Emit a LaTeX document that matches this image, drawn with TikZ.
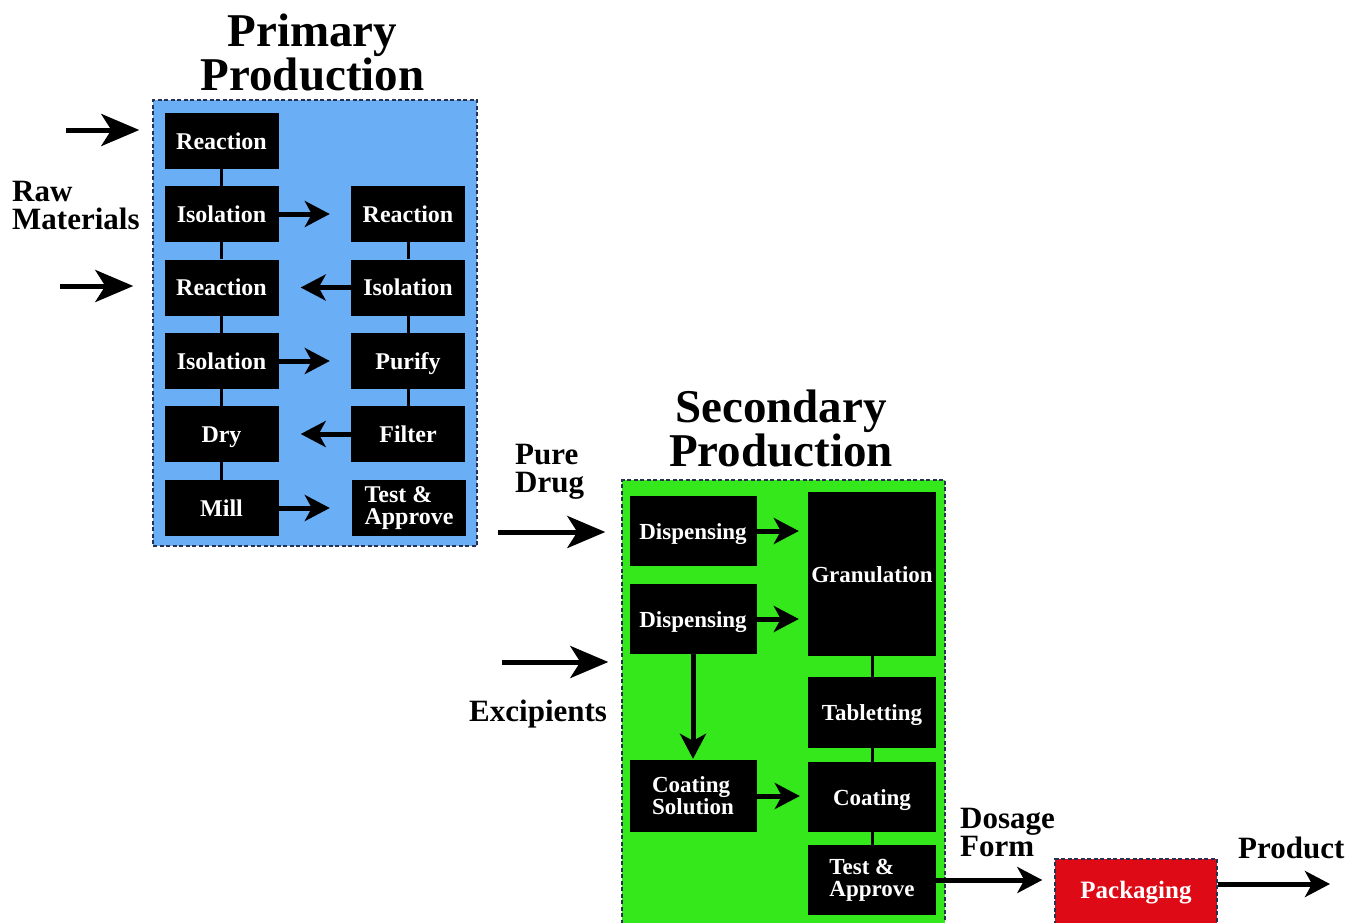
\documentclass[tikz,border=0pt]{standalone}
\usepackage{fontspec}
\setmainfont{Liberation Serif}
\usetikzlibrary{arrows.meta}
\definecolor{primblue}{RGB}{106,174,245}
\definecolor{secgreen}{RGB}{52,232,28}
\definecolor{packred}{RGB}{222,10,22}
\definecolor{paneledge}{RGB}{40,50,80}
\tikzset{
  panel/.style={draw=paneledge, line width=1.4pt, dash pattern=on 4pt off 2.5pt, inner sep=0pt},
  blk/.style={fill=black, text=white, inner sep=0pt, align=left,
    font=\bfseries\fontsize{24}{22}\selectfont},
  pblk/.style={blk, minimum width=114pt, minimum height=56pt},
  sblk/.style={blk, font=\bfseries\fontsize{23}{22}\selectfont,
    minimum width=127pt, minimum height=70pt},
  one/.style={text height=18pt, text depth=2pt},
  link/.style={line width=3pt},
  arr/.style={line width=5pt, -{Stealth[length=25pt,width=26pt,inset=7pt]}},
  bigarr/.style={line width=5pt, -{Stealth[length=38pt,width=32pt,inset=10pt]}},
  lbl/.style={inner sep=0pt, align=left, font=\bfseries\fontsize{31}{28}\selectfont},
  heading/.style={inner sep=0pt, align=center, font=\bfseries\fontsize{47}{44}\selectfont},
}
\begin{document}
\begin{tikzpicture}[x=1pt, y=-1pt]
\useasboundingbox (0,0) rectangle (1349,922);

% process panels
\node[panel, fill=primblue, minimum width=324pt, minimum height=446pt] (prim) at (315,323) {};
\node[panel, fill=secgreen, minimum width=323pt, minimum height=455pt] (sec) at (783.5,707.5) {};

% headings and labels
\node[heading] (hprim) at (312.5,52.5) {Primary\\Production};
\node[heading] (hsec) at (781,428.6) {Secondary\\Production};
\node[lbl, anchor=west] (raw) at (12,205.8) {Raw\\Materials};
\node[lbl, anchor=west] (drug) at (515,471.3) {Pure\\Drug};
\node[lbl, anchor=base west] (exc) at (469,721) {Excipients};
\node[lbl, anchor=west] (dose) at (960,832.2) {Dosage\\Form};
\node[lbl, anchor=base west] (prod) at (1238,858) {Product};

% primary production steps
\node[pblk, one] (rA) at (221.5,141) {Reaction};
\node[pblk, one] (iA) at (221.5,214) {Isolation};
\node[pblk, one] (rB) at (221.5,287.5) {Reaction};
\node[pblk, one] (iB) at (221.5,361) {Isolation};
\node[pblk, one] (dry) at (221.5,434) {Dry};
\node[pblk, one] (mill) at (221.5,508) {Mill};
\node[pblk, one] (rC) at (408,214) {Reaction};
\node[pblk, one] (iC) at (408,287.5) {Isolation};
\node[pblk, one] (pur) at (408,361) {Purify};
\node[pblk, one] (fil) at (408,434) {Filter};
\node[pblk] (tA) at (409,508) {Test \&\\Approve};

\draw[link] (rA) -- (iA) -- (rB) -- (iB) -- (dry) -- (mill);
\draw[link] (rC) -- (iC) -- (pur) -- (fil);
\draw[arr, shorten >=21pt] (iA) -- (rC);
\draw[arr, shorten >=22pt] (iC) -- (rB);
\draw[arr, shorten >=21pt] (iB) -- (pur);
\draw[arr, shorten >=22pt] (fil) -- (dry);
\draw[arr, shorten >=21pt] (mill) -- (tA.west -| rC.west);

% secondary production steps
\node[sblk, one] (d1) at (693,531) {Dispensing};
\node[sblk, one] (d2) at (693,619) {Dispensing};
\node[sblk, one, minimum width=128pt, minimum height=164pt] (gran) at (872,574) {Granulation};
\node[sblk, one, minimum width=128pt, minimum height=71pt] (tab) at (872,712.5) {Tabletting};
\node[sblk, minimum height=72pt] (csol) at (693,796) {Coating\\Solution};
\node[sblk, one, minimum width=128pt] (coat) at (872,797) {Coating};
\node[sblk, minimum width=128pt] (tB) at (872,880) {Test \&\\Approve};

\draw[link] (gran) -- (tab) -- (coat) -- (tB);
\draw[arr, shorten >=9pt] (d1.east) -- (d1.east -| gran.west);
\draw[arr, shorten >=9pt] (d2.east) -- (d2.east -| gran.west);
\draw[arr, shorten >=1pt] (d2) -- (csol);
\draw[arr, shorten >=8pt] (csol.east) -- (csol.east -| coat.west);

% packaging
\node[panel, fill=packred, text=white, minimum width=162pt, text height=39pt, text depth=37pt,
  font=\bfseries\fontsize{25}{25}\selectfont] (pack) at (1136,897) {Packaging};

% material flows
\coordinate (rawA) at (66,130);
\coordinate (rawB) at (60,286);
\coordinate (drugIn) at (498,532);
\coordinate (excIn) at (502,662);
\coordinate (prodOut) at (1330,884);
\draw[bigarr, shorten >=13pt] (rawA) -- (rawA -| prim.west);
\draw[bigarr, shorten >=19pt] (rawB) -- (rawB -| prim.west);
\draw[bigarr, shorten >=16pt] (drugIn) -- (drugIn -| sec.west);
\draw[bigarr, shorten >=13pt] (excIn) -- (excIn -| sec.west);
\draw[arr, shorten >=12pt] (tB.east) -- (tB.east -| pack.west);
\draw[arr] (pack.east |- prodOut) -- (prodOut);
\end{tikzpicture}
\end{document}
